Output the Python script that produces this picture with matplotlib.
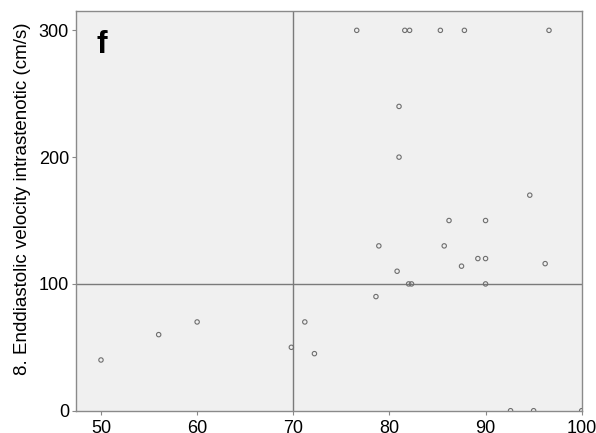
import matplotlib
matplotlib.use("Agg")
import matplotlib.pyplot as plt

plt.rcParams['font.family'] = ['Liberation Sans', 'DejaVu Sans']

# Stenosis degree (%) vs end-diastolic velocity (cm/s)
stenosis = [50, 56, 60, 69.8, 71.2, 72.2,
            76.6, 81.6, 82.1, 85.3, 87.8, 96.6,
            81.0, 81.0, 94.6, 86.2, 90.0, 78.9, 85.7,
            80.8, 89.2, 90.0, 87.5, 96.2,
            82.0, 82.3, 90.0, 78.6,
            92.6, 95.0, 100.0]
edv = [40, 60, 70, 50, 70, 45,
       300, 300, 300, 300, 300, 300,
       240, 200, 170, 150, 150, 130, 130,
       110, 120, 120, 114, 116,
       100, 100, 100, 90,
       0, 0, 0]

x_ticks = [50, 60, 70, 80, 90, 100]
y_ticks = [0, 100, 200, 300]
ref_x = 70
ref_y = 100

fig = plt.figure(figsize=(5.96, 4.33), dpi=100)
ax = fig.add_axes([0.1275, 0.0515, 0.976 - 0.1275, 0.9753 - 0.0515])
ax.set_facecolor('#f0f0f0')

ax.axvline(ref_x, color='#7a7a7a', lw=1.0, zorder=1)
ax.axhline(ref_y, color='#7a7a7a', lw=1.0, zorder=1)

ax.scatter(stenosis, edv, s=10, facecolors='none', edgecolors='#6e6e6e',
           linewidths=0.8, zorder=3)

ax.set_xlim(47.4, 100)
ax.set_ylim(0, 315.5)
ax.set_xticks(x_ticks)
ax.set_yticks(y_ticks)
ax.tick_params(axis='both', labelsize=13, length=3, width=0.8,
               color='#888888', labelcolor='black')
ax.tick_params(axis='x', pad=4)
ax.tick_params(axis='y', pad=2)

for s in ax.spines.values():
    s.set_color('#8a8a8a')
    s.set_linewidth(1.0)

ax.set_ylabel('8. Enddiastolic velocity intrastenotic (cm/s)', fontsize=13.5)
ax.yaxis.set_label_coords(-0.088, 0.529)

ax.text(0.04, 0.915, 'f', transform=ax.transAxes, fontsize=23,
        fontweight='bold', ha='left', va='center')

fig.savefig('out.png', dpi=100)
